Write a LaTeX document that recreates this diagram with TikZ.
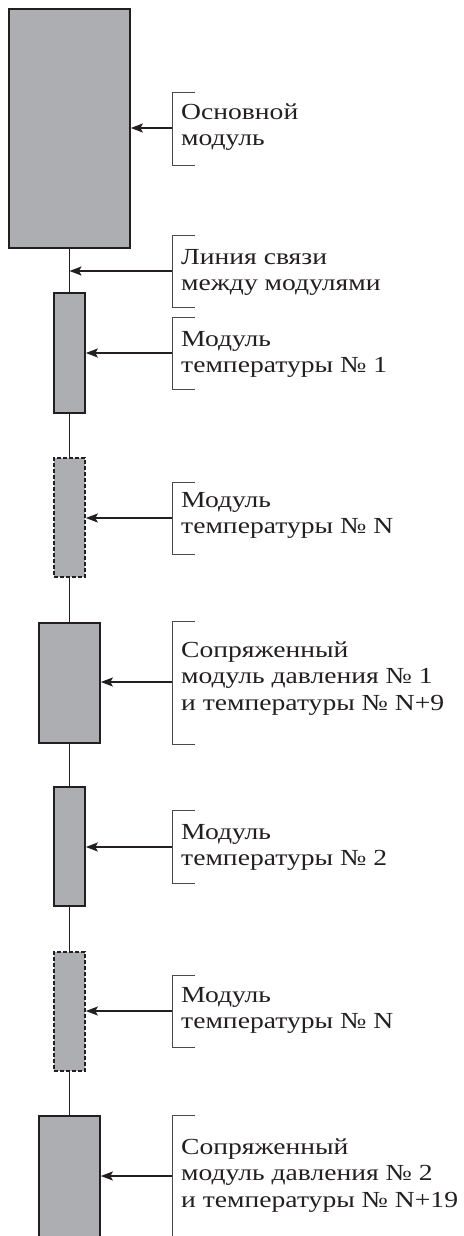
\documentclass[tikz,border=0pt]{standalone}
\usepackage{fontspec}
\setmainfont[FakeStretch=1.2]{Liberation Serif}
\usetikzlibrary{arrows.meta}
\definecolor{boxfill}{HTML}{ADAEB2}
\definecolor{ink}{HTML}{231F20}
\definecolor{brk}{HTML}{4A4A4A}
\tikzset{
  modbox/.style={draw=ink, fill=boxfill, line width=1.7pt, inner sep=0pt},
  dashbox/.style={modbox, dash pattern=on 4pt off 2pt},
  link/.style={draw=ink, line width=1.6pt},
  arr/.style={draw=ink, line width=1.5pt, -{Stealth[length=12pt,width=9pt,inset=2.5pt]}},
  bracket/.style={draw=brk, line width=0.9pt},
  lbl/.style={font=\fontsize{23}{26.5}\selectfont, align=left, inner sep=0pt, anchor=north west, text=ink}
}
\begin{document}
\begin{tikzpicture}[x=1pt,y=-1pt]
\useasboundingbox (0,0) rectangle (463,1236);
\clip (0,0) rectangle (463,1236);
% modules
\node[modbox, minimum width=121pt, minimum height=239pt] (m0) at (69.5,128.5) {};
\node[modbox, minimum width=31pt, minimum height=120pt] (m1) at (69.5,353) {};
\node[dashbox, minimum width=31pt, minimum height=119pt] (m2) at (69.5,517.5) {};
\node[modbox, minimum width=61pt, minimum height=120pt] (m3) at (69.5,683) {};
\node[modbox, minimum width=31pt, minimum height=119pt] (m4) at (69.5,846.5) {};
\node[dashbox, minimum width=31pt, minimum height=119pt] (m5) at (69.5,1011.5) {};
\node[modbox, minimum width=61pt, minimum height=140pt] (m6) at (69.5,1186) {};
% links
\draw[link] (m0.south) -- (m1.north);
\draw[link] (m1.south) -- (m2.north);
\draw[link] (m2.south) -- (m3.north);
\draw[link] (m3.south) -- (m4.north);
\draw[link] (m4.south) -- (m5.north);
\draw[link] (m5.south) -- (m6.north);
\coordinate (lk) at (69.5,271);
% brackets
\draw[bracket] (195,92) -- (172,92) -- (172,165) -- (195,165);
\draw[bracket] (195,235) -- (172,235) -- (172,307) -- (195,307);
\draw[bracket] (195,317) -- (172,317) -- (172,389) -- (195,389);
\draw[bracket] (195,482) -- (172,482) -- (172,554) -- (195,554);
\draw[bracket] (195,621) -- (172,621) -- (172,744) -- (195,744);
\draw[bracket] (195,810) -- (172,810) -- (172,883) -- (195,883);
\draw[bracket] (195,975) -- (172,975) -- (172,1047) -- (195,1047);
\draw[bracket] (195,1115) -- (172,1115) -- (172,1245);
% arrow starts
\coordinate (a0) at (172,128);
\coordinate (a1) at (172,271);
\coordinate (a2) at (172,353);
\coordinate (a3) at (172,518);
\coordinate (a4) at (172,682);
\coordinate (a5) at (172,847);
\coordinate (a6) at (172,1011);
\coordinate (a7) at (172,1176);
\draw[arr] (a0) -- (a0 -| m0.east);
\draw[arr] (a1) -- (lk);
\draw[arr] (a2) -- (a2 -| m1.east);
\draw[arr] (a3) -- (a3 -| m2.east);
\draw[arr] (a4) -- (a4 -| m3.east);
\draw[arr] (a5) -- (a5 -| m4.east);
\draw[arr] (a6) -- (a6 -| m5.east);
\draw[arr] (a7) -- (a7 -| m6.east);
% labels
\node[lbl] (t0) at (181,{119-18.55}) {\strut Основной\\модуль};
\node[lbl] (t1) at (181,{264-18.55}) {\strut Линия связи\\между модулями};
\node[lbl] (t2) at (181,{346-18.55}) {\strut Модуль\\температуры № 1};
\node[lbl] (t3) at (181,{507-18.55}) {\strut Модуль\\температуры № N};
\node[lbl] (t4) at (181,{657-18.55}) {\strut Сопряженный\\модуль давления № 1\\и температуры № N+9};
\node[lbl] (t5) at (181,{839-18.55}) {\strut Модуль\\температуры № 2};
\node[lbl] (t6) at (181,{1002-18.55}) {\strut Модуль\\температуры № N};
\node[lbl] (t7) at (181,{1154-18.55}) {\strut Сопряженный\\модуль давления № 2\\и температуры № N+19};
\end{tikzpicture}
\end{document}
